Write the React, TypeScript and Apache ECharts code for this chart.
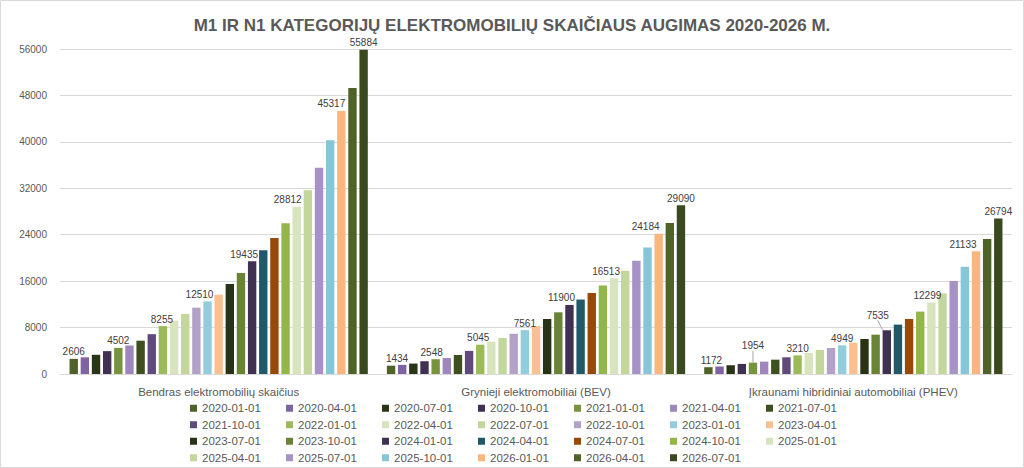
import { useEffect, useRef } from "react";
import * as echarts from "echarts";

const categories = [
  "Bendras elektromobilių skaičius",
  "Grynieji elektromobiliai (BEV)",
  "Įkraunami hibridiniai automobiliai (PHEV)",
];

const dates = [
  "2020-01-01", "2020-04-01", "2020-07-01", "2020-10-01",
  "2021-01-01", "2021-04-01", "2021-07-01", "2021-10-01",
  "2022-01-01", "2022-04-01", "2022-07-01", "2022-10-01",
  "2023-01-01", "2023-04-01", "2023-07-01", "2023-10-01",
  "2024-01-01", "2024-04-01", "2024-07-01", "2024-10-01",
  "2025-01-01", "2025-04-01", "2025-07-01", "2025-10-01",
  "2026-01-01", "2026-04-01", "2026-07-01",
];

const totalValues = [
  2606, 2870, 3310, 3940, 4502, 4890, 5740, 6860, 8255, 9190, 10340, 11430, 12510, 13670,
  15510, 17410, 19435, 21340, 23440, 25990, 28812, 31680, 35560, 40270, 45317, 49280, 55884,
];

const bevValues = [
  1434, 1580, 1800, 2200, 2548, 2760, 3270, 3980, 5045, 5570, 6200, 6950, 7561, 8270,
  9480, 10630, 11900, 12830, 13960, 15240, 16513, 17770, 19530, 21800, 24184, 26020, 29090,
];

const phevValues = [
  1172, 1290, 1510, 1740, 1954, 2130, 2470, 2880, 3210, 3620, 4140, 4480, 4949, 5400,
  6030, 6780, 7535, 8510, 9480, 10750, 12299, 13910, 16030, 18470, 21133, 23260, 26794,
];

const colors = [
  "#4F6228", "#8064A2", "#2A3517", "#403152", "#77933C", "#9F87BE", "#3F5020",
  "#604A7B", "#9BBB59", "#D7E4BD", "#C3D69B", "#B3A2C7", "#93CDDD", "#FAC090",
  "#283217", "#6A8436", "#3F3151", "#215968", "#984807", "#92B64A", "#D7E4BD",
  "#C3D69B", "#A692C4", "#86C6D9", "#F9B77E", "#4F6228", "#3B4A1E",
];

const labeledDates = [
  "2020-01-01", "2021-01-01", "2022-01-01", "2023-01-01",
  "2024-01-01", "2025-01-01", "2026-01-01", "2026-07-01",
];

const yMin = 0;
const yMax = 56000;
const yInterval = 8000;

const titleText = "M1 IR N1 KATEGORIJŲ ELEKTROMOBILIŲ SKAIČIAUS AUGIMAS 2020-2026 M.";

// label nudges (layout only): key "date|categoryIndex" -> [dx, dy]
const labelNudges: Record<string, [number, number]> = {
  "2022-01-01|0": [-1, 0],
  "2023-01-01|0": [-8, 0],
  "2024-01-01|0": [-8, 0],
  "2025-01-01|0": [-9, 0],
  "2026-01-01|0": [-10, 0],
  "2020-01-01|1": [6, 0],
  "2021-01-01|1": [-4, 0],
  "2022-01-01|1": [-2, 0],
  "2024-01-01|1": [-8, 0],
  "2025-01-01|1": [-8, 0],
  "2026-01-01|1": [-13, 0],
  "2020-01-01|2": [3, 0],
  "2021-01-01|2": [0, -10],
  "2024-01-01|2": [-9, -8],
  "2025-01-01|2": [-4, 0],
  "2026-01-01|2": [-13, 0],
};
const guideLabels = ["2021-01-01|2", "2024-01-01|2"];

export default function App() {
  const ref = useRef<HTMLDivElement>(null);

  useEffect(() => {
    if (!ref.current) return;
    const chart = echarts.init(ref.current, null, { renderer: "svg" });
    const font = "'Liberation Sans', Arial, sans-serif";

    const series = dates.map((d, i) => {
      const showLabel = labeledDates.includes(d);
      const values = [totalValues[i], bevValues[i], phevValues[i]];
      return {
        name: d,
        type: "bar",
        z: showLabel ? 4 : 2,
        data: values.map((v, ci) =>
          guideLabels.includes(`${d}|${ci}`)
            ? { value: v, labelLine: { show: true, lineStyle: { color: "#A6A6A6", width: 1 } } }
            : v
        ),
        itemStyle: { color: colors[i] },
        barGap: "33%",
        barCategoryGap: "6%",
        label: {
          show: showLabel,
          position: "top",
          distance: 2,
          fontSize: 10,
          fontFamily: font,
          color: "#404040",
        },
        labelLine: { show: false },
        labelLayout: (p: any) => {
          const n = labelNudges[`${d}|${p.dataIndex}`];
          return n ? { dx: n[0], dy: n[1] } : {};
        },
      };
    });

    chart.setOption({
      animation: false,
      backgroundColor: "#FFFFFF",
      title: {
        text: titleText,
        left: "center",
        top: 12,
        textStyle: {
          fontFamily: font,
          fontSize: 17,
          fontWeight: "bold",
          color: "#595959",
        },
      },
      graphic: [
        {
          type: "rect",
          shape: { x: 0.5, y: 0.5, width: 1023, height: 467 },
          style: { fill: "none", stroke: "#D9D9D9", lineWidth: 1 },
          silent: true,
          z: -1,
        },
      ],
      legend: {
        data: dates,
        left: 190,
        top: 401,
        width: 700,
        padding: 0,
        icon: "rect",
        itemWidth: 7,
        itemHeight: 7,
        itemGap: 2,
        textStyle: {
          fontFamily: font,
          fontSize: 11.5,
          color: "#595959",
          width: 82,
          lineHeight: 14.5,
        },
      },
      grid: {
        left: 60,
        right: 12,
        top: 49,
        bottom: 94,
        containLabel: false,
      },
      xAxis: {
        type: "category",
        data: categories,
        axisLine: { show: true, lineStyle: { color: "#D9D9D9" } },
        axisTick: { show: false },
        axisLabel: {
          fontFamily: font,
          fontSize: 11.5,
          color: "#595959",
          margin: 12,
        },
      },
      yAxis: {
        type: "value",
        min: yMin,
        max: yMax,
        interval: yInterval,
        axisLine: { show: false },
        axisTick: { show: false },
        splitLine: { lineStyle: { color: "#D9D9D9", width: 1 } },
        axisLabel: {
          fontFamily: font,
          fontSize: 10,
          color: "#595959",
          margin: 13,
          formatter: (v: number) => String(v),
        },
      },
      series,
    });

    return () => chart.dispose();
  }, []);

  return (
    <div
      ref={ref}
      style={{ position: "fixed", left: 0, top: 0, width: 1024, height: 468 }}
    />
  );
}
